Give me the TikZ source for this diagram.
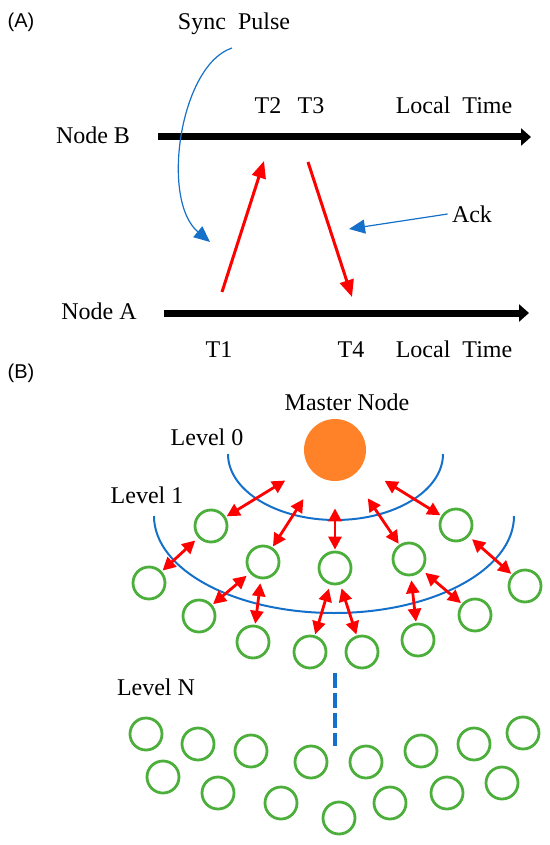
\documentclass[tikz,border=0pt]{standalone}
\usepackage{fontspec}
\setmainfont{Liberation Serif}
\setsansfont{Liberation Sans}
\usetikzlibrary{arrows.meta}
\usetikzlibrary{calc}
\definecolor{msgred}{RGB}{255,0,0}
\definecolor{syncblue}{RGB}{20,112,200}
\definecolor{sensorgreen}{RGB}{76,175,60}
\definecolor{masterorange}{RGB}{255,130,40}
\tikzset{l/.style={font=\fontsize{12}{12}\selectfont, inner sep=0pt, anchor=base}}
\tikzset{p/.style={font=\sffamily\fontsize{10}{10}\selectfont, inner sep=0pt, anchor=base}}
\tikzset{timeline/.style={line width=3.5pt, -{Triangle[length=5pt,width=8.5pt]}}}
\tikzset{msg/.style={draw=msgred, line width=1.5pt, -{Triangle[length=8.5pt,width=7pt]}}}
\tikzset{pulse/.style={draw=syncblue, line width=0.6pt, -{Triangle[length=8pt,width=7pt]}}}
\tikzset{level/.style={draw=syncblue, line width=1pt}}
\tikzset{sensor/.style={circle, draw=sensorgreen, line width=1.4pt, minimum size=16pt, inner sep=0pt}}
\tikzset{link/.style={draw=msgred, line width=1.4pt, shorten <=0.5pt, {Triangle[length=6.5pt,width=6.5pt]}-{Triangle[length=6.5pt,width=6.5pt]}}}

\begin{document}
\begin{tikzpicture}[x=0.5pt, y=-0.5pt, line join=round]
  \useasboundingbox (0,0) rectangle (550,845);

  % (A) two-way message exchange
  \node[p] (la) at (21,28) {(A)};
  \node[l] (sync) at (234,30) {Sync\ \ Pulse};
  \node[l] (nb) at (93,144) {Node B};
  \node[l] (na) at (99,319) {Node A};
  \node[l] (T2) at (268,114) {T2};
  \node[l] (T3) at (311,114) {T3};
  \node[l] (lb) at (454,114) {Local\ \ Time};
  \node[l] (T1) at (219,357) {T1};
  \node[l] (T4) at (351,357) {T4};
  \node[l] (lta) at (454,357) {Local\ \ Time};
  \node[l] (ack) at (472,222) {Ack};

  \coordinate (b0) at (158,137);
  \coordinate (b1) at (531,137);
  \coordinate (a0) at (164,313);
  \coordinate (a1) at (529,313);
  \draw[timeline] (b0) -- (b1);
  \draw[timeline] (a0) -- (a1);

  \coordinate (t1) at (222,292);
  \coordinate (t2) at (264,161);
  \coordinate (t3) at (308,162);
  \coordinate (t4) at (352,297);
  \draw[msg] (t1) -- (t2);
  \draw[msg] (t3) -- (t4);

  \coordinate (pulseend) at (210,242);
  \coordinate (ackend) at (349,229);
  \draw[pulse] ([xshift=-1pt,yshift=-9pt]sync.base) .. controls (180,65) and (160,200) .. (pulseend);
  \draw[pulse] ([xshift=-2pt,yshift=4pt]ack.base west) -- (ackend);

  % (B) level based tree
  \node[p] (lbb) at (21,378) {(B)};
  \node[l] (mlabel) at (347,410) {Master Node};
  \node[circle, fill=masterorange, minimum size=31pt, inner sep=0pt] (m) at (335,450) {};
  \node[l] (lv0) at (207,445) {Level 0};
  \node[l] (lv1) at (147,503) {Level 1};
  \node[l] (lvn) at (156,695) {Level N};

  \draw[level] (228,454) arc[start angle=180, end angle=360, x radius=53.75pt, y radius=33pt];
  \draw[level] (154,516) arc[start angle=180, end angle=360, x radius=90pt, y radius=48.5pt];

  \foreach \x/\y [count=\i] in {211/526, 456/525, 263/562, 335/568, 409/559, 149/583, 525/586,
      199/616, 475/615, 253/642, 418/640, 310/652, 362/652}
    \node[sensor] (c\i) at (\x,\y) {};

  \foreach \a in {c1, c2, c3, c4, c5}
    \draw[link, shorten >=13.5pt] (\a) -- (m);
  \foreach \a/\b in {c6/c1, c7/c2, c8/c3, c10/c3, c12/c4, c13/c4, c11/c5, c9/c5}
    \draw[link, shorten >=2pt] (\a) -- (\b);

  \draw[syncblue, line width=2pt, dash pattern=on 7.5pt off 2.5pt] (335,673) -- (335,746);

  \foreach \x/\y [count=\i] in {146/734, 198/744, 251/751, 311/762, 366/762, 421/751, 474/744, 523/733,
      163/777, 218/793, 281/803, 339/818, 390/803, 447/793, 502/783}
    \node[sensor] (n\i) at (\x,\y) {};
\end{tikzpicture}
\end{document}
